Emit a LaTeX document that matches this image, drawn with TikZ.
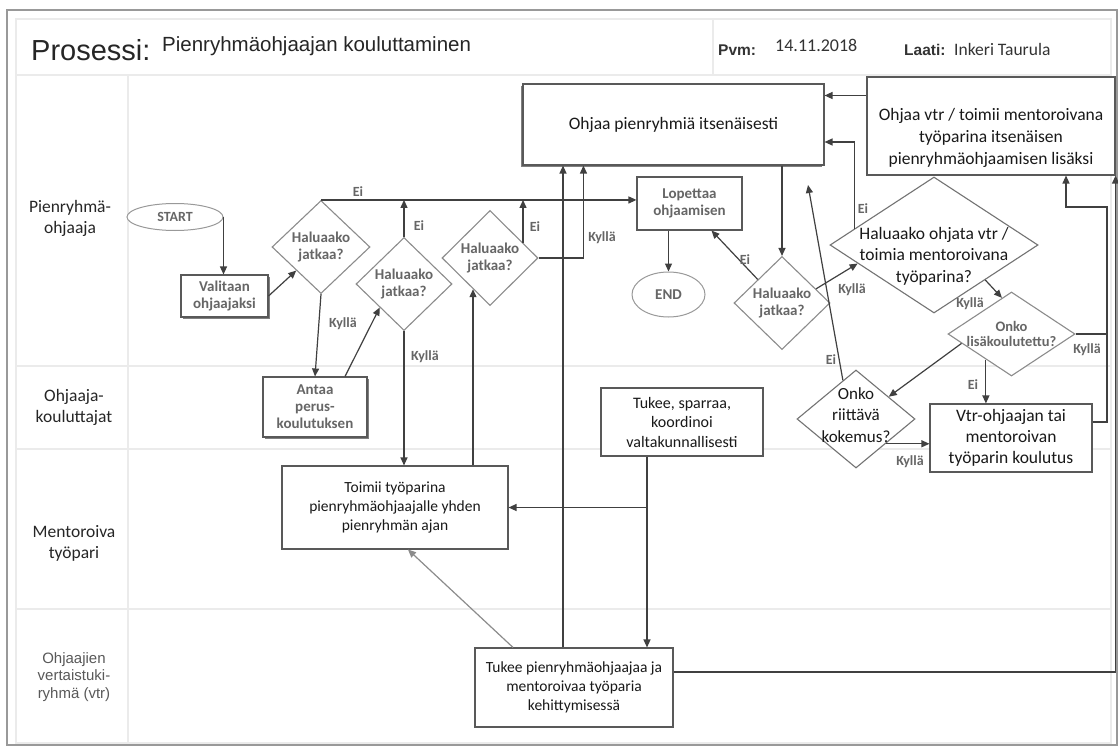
\documentclass[tikz,border=0pt]{standalone}
\usepackage{fontspec}
\setmainfont{Carlito}
\newfontfamily\arialfont{Liberation Sans}
\usetikzlibrary{shapes.geometric,arrows.meta,calc,shadows}
\newcommand{\fsz}[2]{\fontsize{#1}{#2}\selectfont}
\begin{document}
\begin{tikzpicture}[x=1pt,y=-1pt,
  box/.style={draw=black!65, line width=1.1pt, fill=white, inner sep=1pt, align=center, text=black!90, font=\fsz{17.5}{22}},
  btxt/.style={align=center, inner sep=0pt, text=black!90, font=\fsz{17.5}{22}},
  smallbox/.style={box, text=black!60, font=\bfseries\fsz{15}{17}},
  dia/.style={diamond, draw=black!45, line width=1.1pt, fill=white, inner sep=0pt},
  dtxt/.style={align=center, inner sep=0pt, text=black!60, font=\bfseries\fsz{15}{17}},
  oval/.style={ellipse, draw=black!40, line width=1pt, fill=white, inner sep=0pt, text=black!60, font=\bfseries\fsz{14}{16}},
  lbl/.style={inner sep=0pt, text=black!60, font=\bfseries\fsz{14}{16}},
  lane/.style={align=center, text=black!85, font=\fsz{17.5}{21}},
  arr/.style={draw=black!75, line width=1.2pt, -{Triangle[length=8pt,width=7pt]}},
  ln/.style={draw=black!75, line width=1.2pt},
  shd/.style={drop shadow={shadow xshift=1.6pt, shadow yshift=-1.6pt, fill=black!50, opacity=1}}]
 \useasboundingbox (0,0) rectangle (1118,749);
 \fill[white] (0,0) rectangle (1118,749);

  \draw[black!40, line width=1.2pt] (7,10) rectangle (1117,745);
  \draw[black!8, line width=1.5pt] (16,19) rectangle (1111,743);
  \foreach \yy in {75,366,449,609}
    \draw[black!8, line width=1.5pt] (16,\yy) -- (1111,\yy);
  \draw[black!8, line width=1.5pt] (128,75) -- (128,743);
  \draw[black!8, line width=1.5pt] (713,19) -- (713,75);

  \node[anchor=base west, inner sep=0pt, font=\arialfont\fsz{29}{34}, text=black!85] (prosessi) at (31,61) {Prosessi:};
  \node[anchor=base west, inner sep=0pt, font=\arialfont\fsz{20.5}{24}, text=black!85] (otsikko) at (162,52) {Pienryhmäohjaajan kouluttaminen};
  \node[anchor=base west, inner sep=0pt, font=\arialfont\bfseries\fsz{15.5}{18}, text=black!80] (pvm) at (718,56) {Pvm:};
  \node[anchor=base west, inner sep=0pt, font=\fsz{18}{21}, text=black!80] (pvmarvo) at (775,52) {14.11.2018};
  \node[anchor=base west, inner sep=0pt, font=\arialfont\bfseries\fsz{15.5}{18}, text=black!80] (laati) at (904,56) {Laati:};
  \node[anchor=base west, inner sep=0pt, font=\fsz{17.5}{21}, text=black!80] (laatiarvo) at (954,56) {Inkeri Taurula};

  \node[lane] (kaista1) at (70,218) {Pienryhmä-\\ohjaaja};
  \node[lane] (kaista2) at (74,407) {Ohjaaja-\\kouluttajat};
  \node[lane] (kaista3) at (74,543) {Mentoroiva\\työpari};
  \node[lane, text=black!65, font=\arialfont\fsz{15}{17.5}] (kaista4) at (74,677) {Ohjaajien\\vertaistuki-\\ryhmä (vtr)};

  \node[oval, minimum width=96pt, minimum height=27pt] (start) at (175,217) {START};
  \node[smallbox, shd, minimum width=87pt, minimum height=42pt] (valitaan) at (224.5,296) {Valitaan\\ohjaajaksi};
  \node[dia, minimum width=98pt, minimum height=93pt, label={[dtxt]center:Haluaako\\jatkaa?}] (d1) at (321,247) {};
  \node[smallbox, shd, minimum width=104pt, minimum height=60pt] (antaa) at (315,407) {Antaa\\perus-\\koulutuksen};
  \node[dia, minimum width=96pt, minimum height=93pt, label={[dtxt]center:Haluaako\\jatkaa?}] (d2) at (404,284) {};
  \node[dia, minimum width=96pt, minimum height=95pt, label={[dtxt]center:Haluaako\\jatkaa?}] (d3) at (490,258) {};
  \node[box, drop shadow={shadow xshift=-2pt, shadow yshift=-2pt, fill=black!50, opacity=1}, minimum width=301pt, minimum height=81pt] (ohjaa) at (673.5,124.5) {Ohjaa pienryhmiä itsenäisesti};
  \node[smallbox, minimum width=105pt, minimum height=53pt] (lopettaa) at (689.5,203.5) {Lopettaa\\ohjaamisen};
  \node[oval, minimum width=73pt, minimum height=45pt, font=\bfseries\fsz{15}{17}] (loppu) at (668.5,294.5) {END};
  \node[dia, minimum width=96pt, minimum height=93pt, label={[dtxt]center:Haluaako\\jatkaa?}] (d4) at (782,303) {};
  \node[dia, draw=black!55, minimum width=208pt, minimum height=136pt, label={[btxt, font=\fsz{17.5}{21.5}, yshift=-11pt]center:Haluaako ohjata vtr /\\toimia mentoroivana\\työparina?}] (d5) at (934,245) {};
  \node[box, minimum width=248pt, minimum height=98pt, label={[btxt, yshift=-12pt]center:Ohjaa vtr / toimii mentoroivana\\työparina itsenäisen\\pienryhmäohjaamisen lisäksi}] (ohjaavtr) at (991,126) {};
  \node[dia, minimum width=127pt, minimum height=84pt, label={[dtxt, font=\bfseries\fsz{14.5}{15.5}]center:Onko\\lisäkoulutettu?}] (d6) at (1011.5,334) {};
  \node[dia, draw=black!55, minimum width=118pt, minimum height=98pt, label={[btxt, font=\fsz{17}{21.5}, yshift=4pt]center:Onko\\riittävä\\kokemus?}] (d7) at (856,419) {};
  \node[box, minimum width=162pt, minimum height=68pt, font=\fsz{17.5}{21}] (vtrkoul) at (1011,438) {Vtr-ohjaajan tai\\mentoroivan\\työparin koulutus};
  \node[box, minimum width=226pt, minimum height=83pt, font=\fsz{15.5}{19}] (toimii) at (395,507.5) {Toimii työparina\\pienryhmäohjaajalle yhden\\pienryhmän ajan};
  \node[box, minimum width=162pt, minimum height=68pt, font=\fsz{16}{19.5}] (sparraa) at (682,422) {Tukee, sparraa,\\koordinoi\\valtakunnallisesti};
  \node[box, minimum width=198pt, minimum height=79pt, font=\fsz{15.5}{19}] (tukee) at (574,687.5) {Tukee pienryhmäohjaajaa ja\\mentoroivaa työparia\\kehittymisessä};

  \coordinate (d3ei) at ($(d3.north)!0.68!(d3.east)$);
  \coordinate (d3ky) at ($(d3.west)!0.65!(d3.south)$);
  \coordinate (tk) at ([xshift=-11pt]tukee.north);
  \coordinate (d5ei) at ($(d5.west)!0.24!(d5.north)$);
  \coordinate (ohjaaoik) at ([yshift=-17.5pt]ohjaa.east);
  \coordinate (vtrvas) at ([yshift=30.5pt]ohjaavtr.west);
  \coordinate (d6ei) at ($(d6.west)!0.6!(d6.south)$);
  \coordinate (d7ky) at ($(d7.east)!0.5!(d7.south)$);
  \coordinate (ohjaaraja) at (808,185);
  \coordinate (oikea) at (1107,207);
  \coordinate (sp) at ([xshift=-35pt]sparraa.south);

  \draw[arr] (start.east) -- (start.east |- valitaan.north);
  \draw[arr] (valitaan.east) -- (d1.south west);
  \draw[arr] (d1.north) -- (d1.north -| lopettaa.west);
  \draw[arr] (d2.north) -- (d2.north |- d1.north);
  \draw[arr] (d3ei) -- (d3ei |- d1.north);
  \draw[arr] (d3.east) -| ([xshift=61pt]ohjaa.south west);
  \draw[arr] (tk) -- (tk |- ohjaa.south);
  \draw[arr] (d1.south) -- (antaa.north);
  \draw[arr] ([xshift=30pt]antaa.north) -- (d2.south west);
  \draw[arr] (d2.south) -- (d2.south |- toimii.north);
  \draw[arr] (d3ky |- toimii.north) -- (d3ky);
  \draw[arr] (lopettaa.south -| loppu.north) -- (loppu.north);
  \draw[arr] (ohjaa.south -| d4.north) -- (d4.north);
  \draw[arr] (d4.north west) -- ([xshift=22pt]lopettaa.south);
  \draw[arr] ($(d4.north)!0.7!(d4.east)$) -- ($(d5.west)!0.27!(d5.south)$);
  \draw[arr] (d5ei) |- (ohjaaoik);
  \draw[arr] (vtrvas) -- (vtrvas -| ohjaa.east);
  \draw[arr] ($(d5.south)!0.49!(d5.east)$) -- ($(d6.north)!0.15!(d6.west)$);
  \draw[arr] (d6ei) -- (d6ei |- vtrkoul.north);
  \draw[arr] ($(d6.west)!0.22!(d6.south)$) -- ($(d7.north)!0.55!(d7.east)$);
  \draw[arr] ($(d7.north)!0.22!(d7.west)$) -- (ohjaaraja);
  \draw[arr] (d7ky) -- (d7ky -| vtrkoul.west);
  \draw[arr] ([yshift=16pt]vtrkoul.east) -| (oikea) -| ([xshift=75pt]ohjaavtr.south);
  \draw[ln] (d6.east) -- (d6.east -| oikea);
  \draw[arr] ([yshift=15.5pt]tukee.east) -| (ohjaavtr.south east);
  \draw[arr] (sp) -- (sp |- tukee.north);
  \draw[arr] (sp |- toimii.east) -- (toimii.east);
  \draw[arr, draw=black!45] ([xshift=-61pt]tukee.north) -- ([xshift=13pt]toimii.south);

  \node[lbl] (ei1) at (358,192) {Ei};
  \node[lbl] (ei2) at (419,226) {Ei};
  \node[lbl] (ei3) at (535,227) {Ei};
  \node[lbl] (ky1) at (343,324) {Kyllä};
  \node[lbl] (ky2) at (425,357) {Kyllä};
  \node[lbl] (ky3) at (602,238) {Kyllä};
  \node[lbl] (ei4) at (745,260) {Ei};
  \node[lbl] (ky4) at (852,290) {Kyllä};
  \node[lbl] (ei5) at (863,209) {Ei};
  \node[lbl] (ky5) at (970,304) {Kyllä};
  \node[lbl] (ky6) at (1087,350) {Kyllä};
  \node[lbl] (ei6) at (973,385) {Ei};
  \node[lbl] (ei7) at (831,360) {Ei};
  \node[lbl] (ky7) at (910,462) {Kyllä};
\end{tikzpicture}
\end{document}
